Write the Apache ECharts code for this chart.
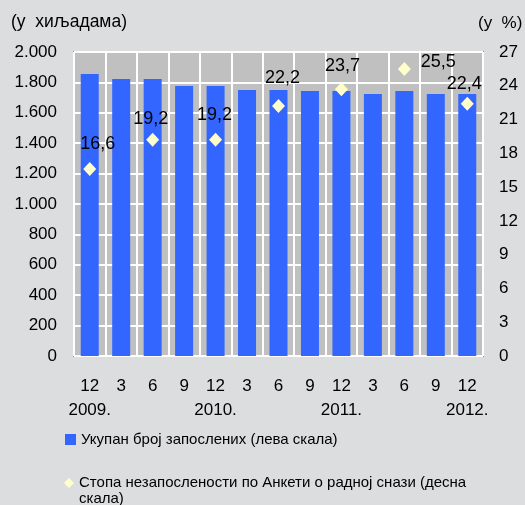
<!DOCTYPE html>
<html>
<head>
<meta charset="utf-8">
<script src="https://cdn.jsdelivr.net/npm/echarts@6/dist/echarts.min.js"></script>
<style>
  html, body { margin: 0; padding: 0; background: #dcdddf; }
  #chart { width: 525px; height: 505px; }
</style>
</head>
<body>
<div id="chart"></div>
<script>
// Quarter months and year captions for the category axis
var months = ['12', '3', '6', '9', '12', '3', '6', '9', '12', '3', '6', '9', '12'];
var years  = ['2009.', '', '', '', '2010.', '', '', '', '2011.', '', '', '', '2012.'];

// Total employed, thousands (left scale)
var employed = [1855, 1822, 1822, 1776, 1776, 1750, 1750, 1743, 1743, 1724, 1743, 1724, 1724];

// Unemployment rate from the Labour Force Survey, % (right scale); null where not surveyed
var unemployment = [16.6, null, 19.2, null, 19.2, null, 22.2, null, 23.7, null, 25.5, null, 22.4];

// Axis tick settings
var leftMax = 2000, leftStep = 200;
var rightMax = 27, rightStep = 3;

var nameEmployed = 'Укупан број запослених (лева скала)';
var nameRate = 'Стопа незапослености по Анкети о радној снази (десна скала)';

// Label placement around each diamond [dx, dy]
var labelShift = {0: [8, -25], 2: [-2, -21], 4: [-1, -25], 6: [4, -28], 8: [1, -23], 10: [34, -7], 12: [-3, -20]};

var FONT = '"Liberation Sans", Arial, sans-serif';

var categories = months.map(function (m, i) { return m + (years[i] ? '\n' + years[i] : ''); });

function thousands(v) {
  if (v >= 1000) {
    var r = String(v % 1000);
    while (r.length < 3) r = '0' + r;
    return Math.floor(v / 1000) + '.' + r;
  }
  return String(v);
}

var rateData = unemployment.map(function (v, i) {
  if (v === null) return '-';
  var s = labelShift[i] || [0, -22];
  return {
    value: v,
    label: { show: true, position: 'inside', offset: s }
  };
});

var chart = echarts.init(document.getElementById('chart'), null, { renderer: 'canvas' });
chart.setOption({
  backgroundColor: '#dcdddf',
  animation: false,
  textStyle: { fontFamily: FONT },
  graphic: [
    { type: 'text', left: 11, top: 13, style: { text: '(у  хиљадама)', font: '17.5px ' + FONT, fill: '#000' } },
    { type: 'text', left: 478, top: 15, style: { text: '(у  %)', font: '17px ' + FONT, fill: '#000' } }
  ],
  grid: {
    left: 74, right: 42, top: 52, bottom: 149,
    show: true, backgroundColor: '#c0c0c0', borderColor: '#8c8c8c', borderWidth: 2
  },
  legend: [
    {
      data: [{ name: nameEmployed, icon: 'rect' }],
      left: 65, top: 432, padding: 0,
      itemWidth: 11, itemHeight: 11, itemGap: 0, textGap: 4,
      textStyle: { fontSize: 15, color: '#000', fontFamily: FONT }
    },
    {
      data: [{ name: nameRate }],
      left: 64, top: 459, padding: 0,
      itemWidth: 10, itemHeight: 10, itemGap: 0, textGap: 5,
      // blank first line keeps the marker level with the first text line
      formatter: function (n) { return '\n' + n.replace(' скала)', '\nскала)'); },
      itemStyle: { opacity: 1 },
      textStyle: { fontSize: 15, color: '#000', fontFamily: FONT, lineHeight: 16 }
    }
  ],
  xAxis: {
    type: 'category',
    data: categories,
    boundaryGap: true,
    axisLine: { show: false },
    axisTick: { show: false },
    axisLabel: { margin: 18, fontSize: 17, color: '#000', lineHeight: 24, interval: 0, fontFamily: FONT },
    splitLine: { show: true, interval: 0, lineStyle: { color: '#ffffff', width: 2 } }
  },
  yAxis: [
    {
      type: 'value', min: 0, max: leftMax, interval: leftStep,
      axisLine: { show: false }, axisTick: { show: false },
      axisLabel: { margin: 17, fontSize: 17, color: '#000', formatter: thousands, fontFamily: FONT },
      splitLine: { show: true, lineStyle: { color: '#ffffff', width: 2 } }
    },
    {
      type: 'value', min: 0, max: rightMax, interval: rightStep,
      axisLine: { show: false }, axisTick: { show: false },
      axisLabel: { margin: 16, fontSize: 17, color: '#000', fontFamily: FONT },
      splitLine: { show: false }
    }
  ],
  series: [
    {
      name: nameEmployed,
      type: 'bar',
      data: employed,
      barWidth: 18,
      itemStyle: { color: '#3366ff' },
      yAxisIndex: 0
    },
    {
      name: nameRate,
      type: 'scatter',
      data: rateData,
      yAxisIndex: 1,
      symbol: 'diamond',
      symbolSize: [13, 14],
      itemStyle: { color: '#ffffcc', opacity: 1 },
      label: {
        show: true,
        color: '#000',
        fontSize: 18,
        fontFamily: FONT,
        textBorderWidth: 0,
        formatter: function (p) { return p.value.toFixed(1).replace('.', ','); }
      }
    }
  ]
});
</script>
</body>
</html>
